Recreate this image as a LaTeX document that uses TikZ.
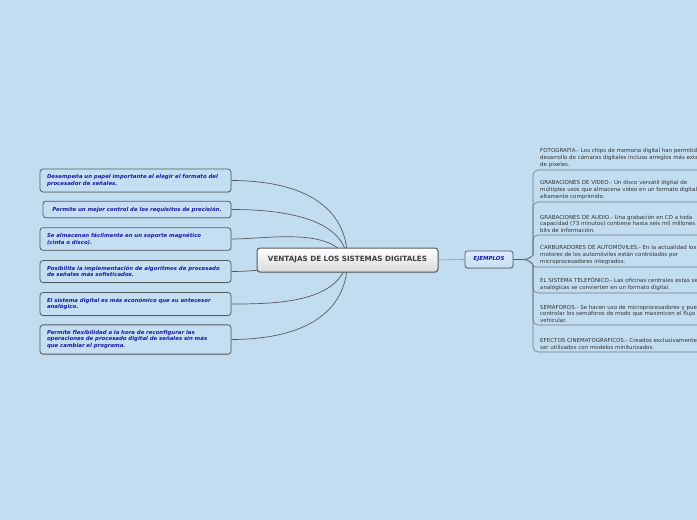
\documentclass[tikz,border=0pt]{standalone}
\usepackage{fontspec}
\setmainfont{DejaVu Sans}
\usetikzlibrary{shadows,backgrounds}

\definecolor{fondo}{RGB}{194,221,240}
\definecolor{caja}{RGB}{197,223,242}
\definecolor{borde}{RGB}{85,90,95}
\definecolor{azul}{RGB}{25,25,165}
\definecolor{rama}{RGB}{110,120,130}

\begin{document}
\begin{tikzpicture}[x=1pt,y=-1pt,
  ventaja/.style={draw=borde,line width=0.8pt,rounded corners=3pt,fill=caja,
    inner xsep=7pt,inner ysep=5.6pt,minimum width=191pt,text width=177pt,align=left,
    font=\fontsize{5.4}{6.4}\selectfont\bfseries\itshape,text=azul,
    drop shadow={shadow xshift=0.5pt,shadow yshift=-0.8pt,opacity=0.25}},
  ejemplo/.style={anchor=south west,align=left,text=black!80,inner sep=0pt,
    font=\fontsize{5.5}{6.6}\selectfont},
  conector/.style={draw=borde,line width=0.7pt}]

\useasboundingbox (0,0) rectangle (697,520);
\clip (0,0) rectangle (697,520);

% tema central
\node[draw=borde,line width=1pt,rounded corners=3pt,top color=white,bottom color=black!15,
  minimum width=181pt,minimum height=24pt,font=\fontsize{7.2}{8}\selectfont\bfseries,text=black!75,
  drop shadow={shadow xshift=0.6pt,shadow yshift=-0.9pt,opacity=0.3}]
  (central) at (347.5,260) {VENTAJAS DE LOS SISTEMAS DIGITALES};

% ventajas
\node[ventaja] (v1) at (135.5,180.5) {Desempeña un papel importante al elegir el formato del\\ procesador de señales.};
\node[ventaja,minimum width=188pt,text width=174pt,align=center] (v2) at (137,209.5) {Permite un mejor control de los requisitos de precisión.};
\node[ventaja] (v3) at (135.5,239) {Se almacenan fácilmente en un soporte magnético\\ (cinta o disco).};
\node[ventaja] (v4) at (135.5,271.5) {Posibilita la implementación de algoritmos de procesado\\ de señales más sofisticados.};
\node[ventaja] (v5) at (135.5,304) {El sistema digital es más económico que su antecesor\\ analógico.};
\node[ventaja] (v6) at (135.5,339.5) {Permite flexibilidad a la hora de reconfigurar las\\ operaciones de procesado digital de señales sin más\\ que cambiar el programa.};

\begin{pgfonlayer}{background}
\fill[fondo] (0,0) rectangle (697,520);
\draw[conector] (central.center) to[out=90,in=0,looseness=1.1] (v1.east);
\draw[conector] (central.center) to[out=95,in=0,looseness=0.9] (v2.east);
\draw[conector] (central.center) to[out=115,in=0,looseness=0.8] (v3.east);
\draw[conector] (central.center) to[out=180,in=0] (v4.east);
\draw[conector] (central.center) to[out=-100,in=0,looseness=0.9] (v5.east);
\draw[conector] (central.center) to[out=-90,in=0,looseness=1.1] (v6.east);
\end{pgfonlayer}

% ejemplos
\node[draw=borde,line width=0.8pt,rounded corners=2.5pt,top color=caja!60!white,bottom color=caja,
  minimum width=48pt,minimum height=17pt,inner sep=0pt,font=\fontsize{5.5}{6}\selectfont\bfseries\itshape,text=azul,
  drop shadow={shadow xshift=0.5pt,shadow yshift=-0.8pt,opacity=0.25}]
  (ej) at (489,259.5) {EJEMPLOS};
\draw[rama!80,line width=0.6pt] (central.east) -- (ej.west);
\coordinate (jn) at (524,259.5);
\draw[borde,line width=1.6pt] (ej.east) -- (jn);

\begin{scope}[rama,line width=0.6pt,rounded corners=5pt]
\draw (jn) to[out=0,in=-90] (533,250) -- (533,170) -- (710,170) coordinate (u1);
\draw (jn) to[out=0,in=-90] (533,250) -- (533,202) -- (710,202) coordinate (u2);
\draw (jn) to[out=0,in=-90] (533,250) -- (533,235) -- (710,235) coordinate (u3);
\draw (jn) to[out=0,in=180] (540,267) -- (710,267) coordinate (u4);
\draw (jn) to[out=0,in=90] (533,270) -- (533,293) -- (710,293) coordinate (u5);
\draw (jn) to[out=0,in=90] (533,270) -- (533,325) -- (710,325) coordinate (u6);
\draw (jn) to[out=0,in=90] (533,270) -- (533,352) -- (710,352) coordinate (u7);
\end{scope}

\node[ejemplo] (e1) at (540,167.5) {FOTOGRAFÍA.- Los chips de memoria digital han permitido el\\ desarrollo de cámaras digitales incluso arreglos más extensos\\ de píxeles.};
\node[ejemplo] (e2) at (540,199.5) {GRABACIONES DE VIDEO.- Un disco versátil digital de\\ múltiples usos que almacena video en un formato digital\\ altamente comprimido.};
\node[ejemplo] (e3) at (540,232.5) {GRABACIONES DE AUDIO.- Una grabación en CD a toda\\ capacidad (73 minutos) contiene hasta seis mil millones de\\ bits de información.};
\node[ejemplo] (e4) at (540,264.5) {CARBURADORES DE AUTOMÓVILES.- En la actualidad los\\ motores de los automóviles están controlados por\\ microprocesadores integrados.};
\node[ejemplo] (e5) at (540,290.5) {EL SISTEMA TELEFÓNICO.- Las oficinas centrales estas señales\\ analógicas se convierten en un formato digital.};
\node[ejemplo] (e6) at (540,322.5) {SEMÁFOROS.- Se hacen uso de microprocesadores y pueden\\ controlar los semáforos de modo que maximicen el flujo\\ vehicular.};
\node[ejemplo] (e7) at (540,349.5) {EFECTOS CINEMATOGRAFICOS.- Creados exclusivamente para\\ ser utilizados con modelos miniturizados.};

\end{tikzpicture}
\end{document}
